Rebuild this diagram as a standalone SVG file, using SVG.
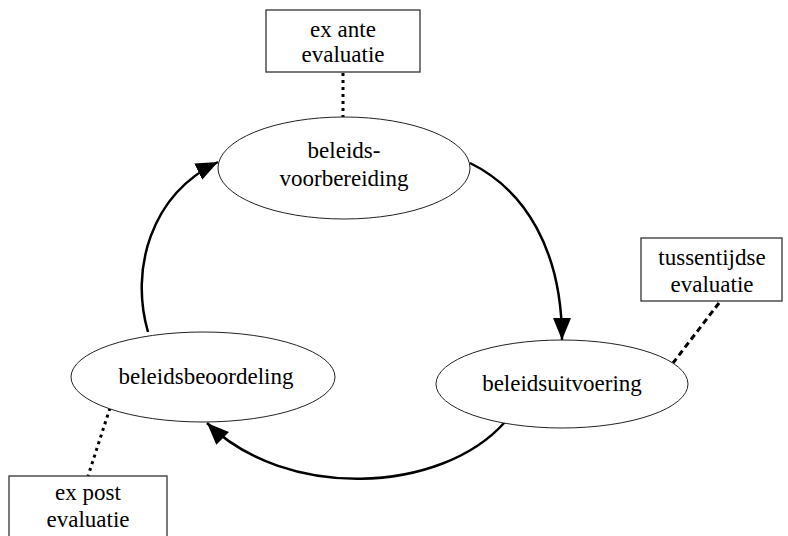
<svg xmlns="http://www.w3.org/2000/svg" width="788" height="536" viewBox="0 0 788 536">
<style>
  .box { fill: #fff; stroke: #333; stroke-width: 1.3; }
  .node { fill: #fff; stroke: #222; stroke-width: 1; }
  .t { font-family: "Liberation Serif", "Times New Roman", serif; font-size: 23px; fill: #000; text-anchor: middle; }
  .dot { stroke: #000; stroke-width: 3; fill: none; stroke-dasharray: 3 4; }
  .dash { stroke: #000; stroke-width: 3; fill: none; stroke-dasharray: 6 4; }
  .arc { stroke: #000; stroke-width: 2.5; fill: none; marker-end: url(#ah); }
</style>
<defs>
  <marker id="ah" markerUnits="userSpaceOnUse" markerWidth="24" markerHeight="20" refX="22" refY="9" orient="auto">
    <path d="M0,0 L22,9 L0,18 z" fill="#000"/>
  </marker>
</defs>
<rect width="788" height="536" fill="#fff"/>
<g id="connectors">
  <line class="dot" x1="343" y1="73" x2="343" y2="117"/>
  <line class="dash" x1="719" y1="303" x2="673" y2="363"/>
  <line class="dot" x1="110" y1="408" x2="88" y2="476"/>
  <path class="arc" d="M470,163 C525,190 562,250 562,340"/>
  <path class="arc" d="M505,422 C440,495 285,500 207,423"/>
  <path class="arc" d="M148,332 C130,270 150,195 218,162"/>
</g>
<g id="ex-ante">
  <rect class="box" x="266" y="10" width="154" height="62"/>
  <text class="t" x="343" y="37">ex ante</text>
  <text class="t" x="343" y="62">evaluatie</text>
</g>
<g id="tussentijdse">
  <rect class="box" x="641" y="238" width="141" height="63"/>
  <text class="t" x="712" y="265">tussentijdse</text>
  <text class="t" x="712" y="292">evaluatie</text>
</g>
<g id="ex-post">
  <rect class="box" x="9" y="476" width="158" height="70"/>
  <text class="t" x="88" y="500">ex post</text>
  <text class="t" x="88" y="527">evaluatie</text>
</g>
<g id="beleidsvoorbereiding">
  <ellipse class="node" cx="344" cy="168" rx="126" ry="51"/>
  <text class="t" x="344" y="158">beleids-</text>
  <text class="t" x="344" y="186">voorbereiding</text>
</g>
<g id="beleidsuitvoering">
  <ellipse class="node" cx="562" cy="384" rx="126" ry="44"/>
  <text class="t" x="562" y="391">beleidsuitvoering</text>
</g>
<g id="beleidsbeoordeling">
  <ellipse class="node" cx="203" cy="377" rx="132" ry="45"/>
  <text class="t" x="206" y="384">beleidsbeoordeling</text>
</g>
</svg>
